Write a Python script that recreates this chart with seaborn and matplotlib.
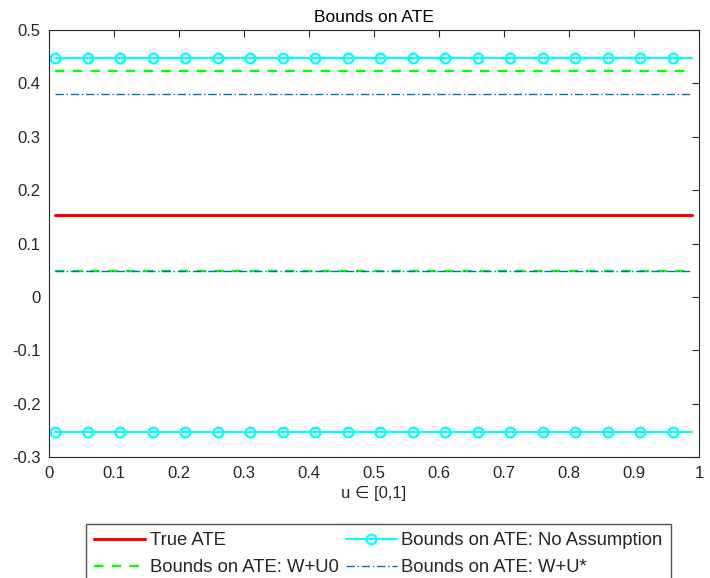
import numpy as np
import matplotlib
matplotlib.use('Agg')
import matplotlib.pyplot as plt
import seaborn as sns

# grid of u values and the (constant) bounds
u = np.linspace(0.01, 0.99, 99)
true_ate = 0.153
no_assump = [-0.253, 0.447]
w_u0 = [0.048, 0.424]
w_ustar = [0.048, 0.380]

sns.set_style('white')
plt.rcParams['font.family'] = ['Liberation Sans', 'DejaVu Sans']
plt.rcParams['xtick.direction'] = 'in'
plt.rcParams['ytick.direction'] = 'in'

fig = plt.figure(figsize=(7.1, 5.78), dpi=100)
ax = fig.add_axes([0.069, 0.209, 0.9155, 0.739])

sns.lineplot(x=u, y=[true_ate] * len(u), color='red', linewidth=2.2,
             ax=ax, label='True ATE')
for i, b in enumerate(no_assump):
    sns.lineplot(x=u, y=[b] * len(u), color='cyan', linewidth=1.5,
                 marker='o', markevery=5, markersize=7, markerfacecolor='none',
                 markeredgecolor='cyan', markeredgewidth=1.6, ax=ax,
                 label='Bounds on ATE: No Assumption' if i == 0 else None)
for i, b in enumerate(w_u0):
    sns.lineplot(x=u, y=[b] * len(u), color='#00ff00', linewidth=1.7,
                 linestyle=(0, (4, 3.5)), ax=ax,
                 label='Bounds on ATE: W+U0' if i == 0 else None)
for i, b in enumerate(w_ustar):
    sns.lineplot(x=u, y=[b] * len(u), color='#0072bd', linewidth=1.0,
                 linestyle=(0, (6, 2, 1, 2)), ax=ax,
                 label='Bounds on ATE: W+U*' if i == 0 else None)

ax.set_xlim(0, 1)
ax.set_ylim(-0.3, 0.5)
ax.set_xticks(np.arange(0, 1.01, 0.1))
ax.set_xticklabels(['0', '0.1', '0.2', '0.3', '0.4', '0.5', '0.6', '0.7', '0.8', '0.9', '1'])
ax.set_yticks(np.arange(-0.3, 0.51, 0.1))
ax.set_yticklabels(['-0.3', '-0.2', '-0.1', '0', '0.1', '0.2', '0.3', '0.4', '0.5'])
ax.tick_params(labelsize=12, colors='#262626', length=5, pad=6, top=True, right=True)
for s in ax.spines.values():
    s.set_color('#262626')
    s.set_linewidth(0.8)
ax.set_xlabel('u \u2208 [0,1]', fontsize=12, color='#262626', labelpad=4)
ax.set_ylabel('')
ax.set_title('Bounds on ATE', fontsize=12.5, color='black', pad=6)

# reorder so the legend reads row by row like the original
handles, labels = ax.get_legend_handles_labels()
order = [0, 2, 1, 3]
ax.legend([handles[k] for k in order], [labels[k] for k in order], ncol=2,
          loc='upper left', bbox_to_anchor=(0.121, 0.094),
          bbox_transform=fig.transFigure,
          frameon=True, fancybox=False, edgecolor='#262626', fontsize=13.3,
          handlelength=2.75, columnspacing=0.4, handletextpad=0.25,
          borderpad=0.45, borderaxespad=0, labelspacing=0.55)

plt.savefig('out.png', dpi=100)
plt.close()
